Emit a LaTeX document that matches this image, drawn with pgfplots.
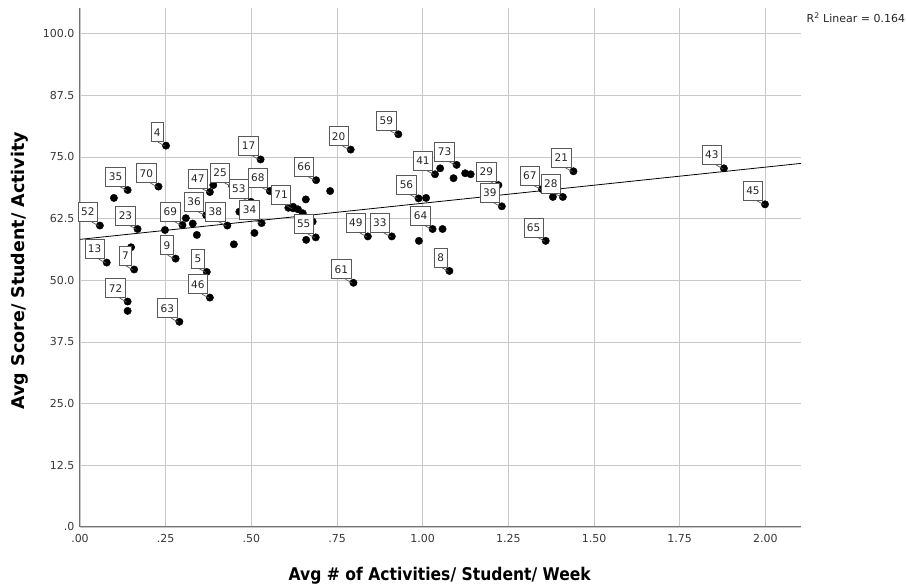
\documentclass[border=0pt]{standalone}
\usepackage{pgfplots}
\pgfplotsset{compat=1.18}
\usepackage{pgfplotstable}
\usepackage{graphicx}
\usepackage{fontspec}
\setmainfont{DejaVu Sans}
\definecolor{gridgray}{RGB}{200,200,200}
\definecolor{axisgray}{RGB}{115,115,115}
\definecolor{ticktext}{RGB}{55,55,55}

\pgfplotstableread{
x y lab
0.251 77.3 4
0.527 74.5 17
0.139 68.3 35
0.229 69.0 70
0.379 67.9 47
0.444 69.1 25
0.499 65.9 53
0.554 68.1 68
0.622 64.6 71
0.689 70.3 66
0.368 63.2 36
0.430 61.1 38
0.530 61.6 34
0.688 58.7 55
0.299 61.2 69
0.058 61.1 52
0.168 60.4 23
0.078 53.6 13
0.158 52.2 7
0.279 54.4 9
0.370 51.7 5
0.379 46.5 46
0.139 45.7 72
0.290 41.6 63
0.790 76.5 20
0.929 79.6 59
0.840 58.9 49
0.910 58.9 33
0.798 49.5 61
0.988 66.6 56
1.029 60.4 64
1.036 71.5 41
1.099 73.4 73
1.221 69.3 29
1.231 65.0 39
1.078 51.9 8
1.348 68.5 67
1.409 66.9 28
1.440 72.1 21
1.359 58.0 65
1.879 72.7 43
1.999 65.4 45
}\labeled

\pgfplotstableread{
x y
0.099 66.7
0.389 69.3
0.465 63.9
0.608 64.7
0.622 64.9
0.636 64.4
0.650 63.6
0.659 66.4
0.679 61.9
0.660 58.2
0.730 68.1
0.248 60.2
0.309 62.6
0.329 61.5
0.341 59.2
0.449 57.3
0.509 59.6
0.149 56.7
0.139 43.8
1.010 66.7
1.058 60.4
0.989 58.0
1.051 72.7
1.090 70.7
1.124 71.7
1.140 71.5
1.380 66.9
}\unlabeled

\begin{document}
\begin{tikzpicture}[x=1pt,y=1pt]
\useasboundingbox (0,0) rectangle (906,585);
\begin{axis}[
  at={(80pt,58pt)}, anchor=south west,
  scale only axis, width=721pt, height=519pt,
  xmin=0, xmax=2.104, ymin=0, ymax=105.2,
  axis x line*=bottom, axis y line*=left,
  axis line style={axisgray, line width=1pt, -},
  xtick={0,0.25,0.5,0.75,1,1.25,1.5,1.75,2},
  xticklabels={.00,.25,.50,.75,1.00,1.25,1.50,1.75,2.00},
  ytick={0,12.5,25,37.5,50,62.5,75,87.5,100},
  yticklabels={.0,12.5,25.0,37.5,50.0,62.5,75.0,87.5,100.0},
  major tick length=0pt,
  grid=major, major grid style={gridgray, line width=0.9pt},
  ticklabel style={font=\fontsize{11}{13}\selectfont, text=ticktext},
  xticklabel style={yshift=-4pt},
  yticklabel style={xshift=-2pt},
  xlabel={\scalebox{0.89}[1]{Avg \# of Activities/ Student/ Week}},
  ylabel={Avg Score/ Student/ Activity},
  label style={font=\fontsize{17.5}{20}\selectfont\bfseries, text=black},
  xlabel style={at={(axis description cs:0.499,-0.094)}, anchor=center},
  ylabel style={at={(axis description cs:-0.083,0.494)}, anchor=center},
  clip=false,
]
\addplot[black, line width=0.8pt] coordinates {(0,58.3) (2.104,73.7)};
\addplot[only marks, mark=*, mark size=3.7pt, black] table[x=x,y=y] {\unlabeled};
\addplot[only marks, mark=*, mark size=3.7pt, black,
  point meta=explicit symbolic,
  nodes near coords,
  nodes near coords style={anchor=south east, xshift=-2pt, yshift=3.5pt,
    draw=black!65, fill=white, line width=0.8pt,
    font=\fontsize{10.5}{12}\selectfont, text=black!85,
    inner xsep=3pt, inner ysep=0pt, minimum height=19pt,
    append after command={(\tikzlastnode.south east) ++(-6pt,0pt) edge[draw=black!65, line width=0.7pt] ++(7pt,-4pt)}},
] table[x=x,y=y,meta=lab] {\labeled};
\node[anchor=west, font=\fontsize{11}{13}\selectfont, text=black!85] at (axis description cs:1.003,0.981) {R\textsuperscript{2} Linear = 0.164};
\end{axis}
\end{tikzpicture}
\end{document}
